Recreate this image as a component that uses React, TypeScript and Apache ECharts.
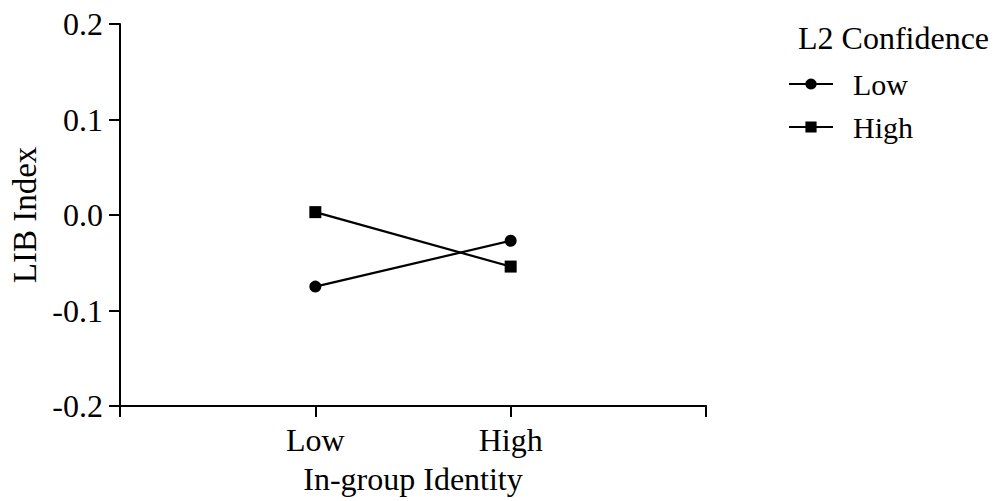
import React, { useEffect, useRef } from "react";
import * as echarts from "echarts";

const categories = ["Low", "High"];
const lowConfidence = [-0.075, -0.027];
const highConfidence = [0.003, -0.054];
const yTicks = [-0.2, -0.1, 0.0, 0.1, 0.2];
const seriesNames = ["Low", "High"];

const FONT = "Liberation Serif";

export default function App() {
  const ref = useRef<HTMLDivElement>(null);
  useEffect(() => {
    if (!ref.current) return;
    const chart = echarts.init(ref.current, undefined, { renderer: "svg" });
    const toPoints = (vals: number[]) => vals.map((v, i) => [i + 1, v]);
    const ts = { fontFamily: FONT, fontSize: 32, color: "#000", fontWeight: "normal" as const };
    chart.setOption({
      animation: false,
      backgroundColor: "#ffffff",
      textStyle: { fontFamily: FONT },
      title: {
        text: "L2 Confidence",
        left: 793,
        top: 17,
        textStyle: { ...ts },
      },
      legend: {
        orient: "vertical",
        left: 783,
        top: 64,
        itemWidth: 44,
        itemHeight: 14,
        itemGap: 13,
        data: seriesNames,
        textStyle: { ...ts, fontSize: 30, padding: [0, 0, 0, 15] },
      },
      grid: { left: 120, right: 295, top: 24, bottom: 95 },
      xAxis: {
        type: "value",
        min: 0,
        max: 3,
        interval: 1,
        name: "In-group Identity",
        nameLocation: "middle",
        nameGap: 57,
        nameTextStyle: { ...ts },
        axisLine: { onZero: false, lineStyle: { color: "#000", width: 2 } },
        axisTick: { length: 11, lineStyle: { color: "#000", width: 2 } },
        axisLabel: {
          ...ts,
          margin: 18,
          formatter: (v: number) => (v >= 1 && v <= categories.length ? categories[v - 1] : ""),
        },
        splitLine: { show: false },
      },
      yAxis: {
        type: "value",
        min: yTicks[0],
        max: yTicks[yTicks.length - 1],
        interval: 0.1,
        name: "LIB Index",
        nameLocation: "middle",
        nameGap: 79,
        nameTextStyle: { ...ts, fontSize: 33 },
        axisLine: { show: true, onZero: false, lineStyle: { color: "#000", width: 2 } },
        axisTick: { show: true, length: 11, lineStyle: { color: "#000", width: 2 } },
        axisLabel: {
          ...ts,
          margin: 17,
          formatter: (v: number) => v.toFixed(1),
        },
        splitLine: { show: false },
      },
      series: [
        {
          name: seriesNames[0],
          type: "line",
          data: toPoints(lowConfidence),
          symbol: "circle",
          symbolSize: 12,
          lineStyle: { color: "#000", width: 2.2 },
          itemStyle: { color: "#000" },
        },
        {
          name: seriesNames[1],
          type: "line",
          data: toPoints(highConfidence),
          symbol: "rect",
          symbolSize: 12,
          lineStyle: { color: "#000", width: 2.2 },
          itemStyle: { color: "#000" },
        },
      ],
    });
    return () => chart.dispose();
  }, []);
  return <div ref={ref} style={{ width: 1001, height: 501, position: "absolute", left: 0, top: 0 }} />;
}
